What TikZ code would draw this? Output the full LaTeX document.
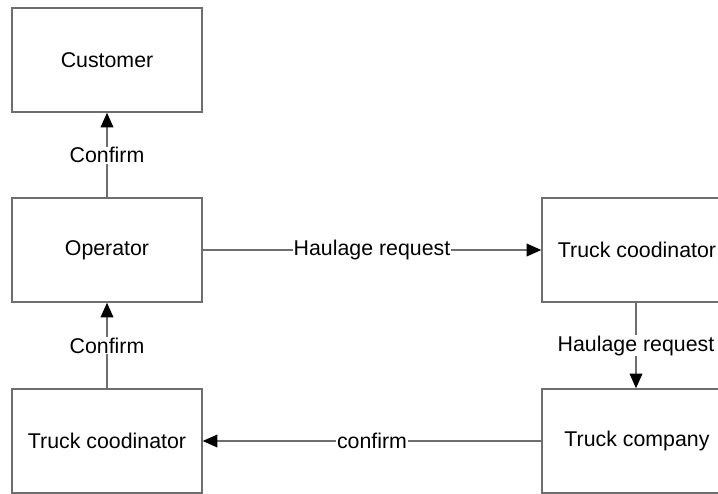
\documentclass[tikz,border=0pt]{standalone}
\usepackage{fontspec}
\setmainfont{Liberation Sans}
\usetikzlibrary{arrows.meta}
\definecolor{edge}{RGB}{110,110,110}
\tikzset{
  boxnode/.style={draw=edge, line width=1pt, minimum width=142.5pt, minimum height=78pt, inner sep=0pt, font=\fontsize{16}{19}\selectfont},
  flow/.style={draw=edge, line width=1pt, -{Triangle[length=11pt,width=9.5pt,fill=black,color=black]}},
  lbl/.style={fill=white, inner sep=0.5pt, font=\fontsize{16}{19}\selectfont}
}
\begin{document}
\begin{tikzpicture}[x=0.75pt,y=-0.75pt]
\useasboundingbox (0,0) rectangle (718,493);
\clip (0,0) rectangle (718,493);
\node[boxnode] (cust) at (107,60) {Customer};
\node[boxnode] (oper) at (107,250) {Operator};
\node[boxnode] (tcl) at (107,441) {Truck coodinator};
\node[boxnode] (tcr) at (637,250) {Truck coodinator};
\node[boxnode] (tco) at (637,441) {Truck company};
\draw[flow] (oper) -- node[lbl] {Confirm} (cust);
\draw[flow] (tcl) -- node[lbl] {Confirm} (oper);
\draw[flow] (oper) -- node[lbl] {Haulage request} (tcr);
\draw[flow] (tcr.south -| 636,0) -- node[lbl] {Haulage request} (tco.north -| 636,0);
\draw[flow] (tco) -- node[lbl] {confirm} (tcl);
\end{tikzpicture}
\end{document}
